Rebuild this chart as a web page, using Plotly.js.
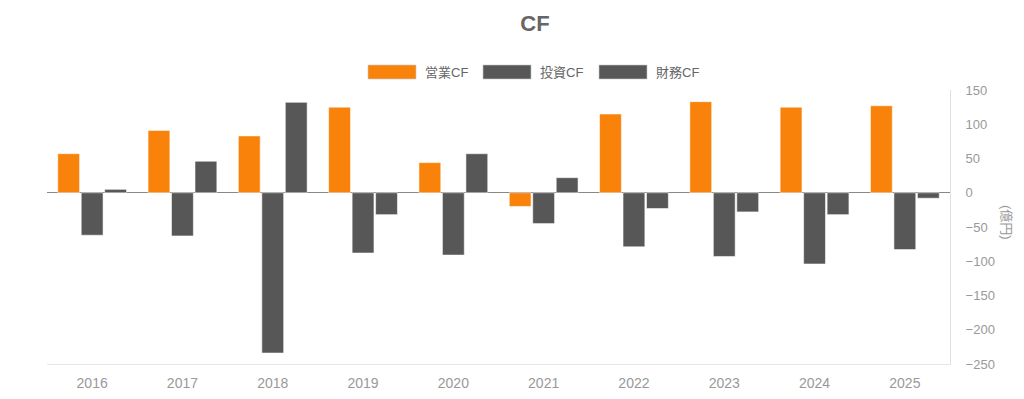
<!DOCTYPE html>
<html>
<head>
<meta charset="utf-8">
<script src="https://cdn.plot.ly/plotly-3.0.1.min.js"></script>
<style>html,body{margin:0;padding:0;background:#fff}#chart{width:1024px;height:399px}</style>
</head>
<body>
<div id="chart"></div>
<script>
const years = ['2016','2017','2018','2019','2020','2021','2022','2023','2024','2025'];
const seriesNames = ['営業CF','投資CF','財務CF'];
const operatingCF = [57, 91, 83, 125, 44, -20, 115, 133, 125, 127];
const investingCF = [-62, -63, -234, -88, -91, -45, -79, -93, -104, -83];
const financingCF = [5, 46, 132, -32, 57, 22, -23, -28, -32, -8];
const colors = ['#F9820A', '#575757', '#575757'];
const yTicks = [150, 100, 50, 0, -50, -100, -150, -200, -250];

const FONT = 'Liberation Sans, Arial, Noto Sans CJK JP, sans-serif';
const values = [operatingCF, investingCF, financingCF];
const traces = values.map((v, i) => ({
  type: 'bar',
  x: years,
  y: v,
  name: seriesNames[i],
  marker: {color: colors[i], line: {color: 'rgba(255,255,255,0.55)', width: 1}},
  hoverinfo: 'x+y+name'
}));

// custom legend (wide swatches)
const legendX = [368, 483, 599];
const swW = 48;
const shapes = [];
const annotations = [];
seriesNames.forEach((n, i) => {
  shapes.push({type: 'rect', xref: 'paper', yref: 'paper',
    x0: (legendX[i] - 47) / 903, x1: (legendX[i] + swW - 47) / 903,
    y0: (364 - 79) / 274, y1: (364 - 65) / 274,
    fillcolor: colors[i], line: {color: 'rgba(200,200,200,0.6)', width: 1}});
  annotations.push({xref: 'paper', yref: 'paper', x: (legendX[i] + swW + 7 - 47) / 903,
    y: (364 - 72) / 274, xanchor: 'left', yanchor: 'middle', showarrow: false,
    text: n, font: {family: FONT, size: 13, color: '#666'}});
});
annotations.push({xref: 'paper', yref: 'paper', x: (1007 - 47) / 903, y: (364 - 222) / 274,
  xanchor: 'center', yanchor: 'middle', showarrow: false, textangle: 90,
  text: '(億円)', font: {family: FONT, size: 13, color: '#999'}});

const layout = {
  width: 1024, height: 399,
  margin: {l: 47, r: 74, t: 90, b: 35, pad: 0},
  paper_bgcolor: '#fff', plot_bgcolor: '#fff',
  font: {family: FONT, size: 12, color: '#999'},
  title: {text: '<b>CF</b>', x: 535 / 1024, xref: 'container', xanchor: 'center', y: 1 - 23.5 / 399, yanchor: 'middle',
    font: {family: FONT, size: 22, color: '#666'}},
  showlegend: false,
  barmode: 'group', bargap: 0.22, bargroupgap: 0.07,
  xaxis: {type: 'category', showgrid: false, showline: true, linecolor: '#e6e6e6', linewidth: 1,
    ticks: '', ticklabelstandoff: 6, tickfont: {family: FONT, size: 14, color: '#999'}, zeroline: false},
  yaxis: {side: 'right', range: [-250, 150], tickvals: yTicks, showgrid: false,
    showline: true, linecolor: '#e0e0e0', linewidth: 1, ticks: '', ticklabelstandoff: 12,
    zeroline: true, zerolinecolor: '#888', zerolinewidth: 1,
    tickfont: {family: FONT, size: 13, color: '#999'}},
  shapes: shapes,
  annotations: annotations
};
Plotly.newPlot('chart', traces, layout, {displayModeBar: false, staticPlot: true});
</script>
</body>
</html>
